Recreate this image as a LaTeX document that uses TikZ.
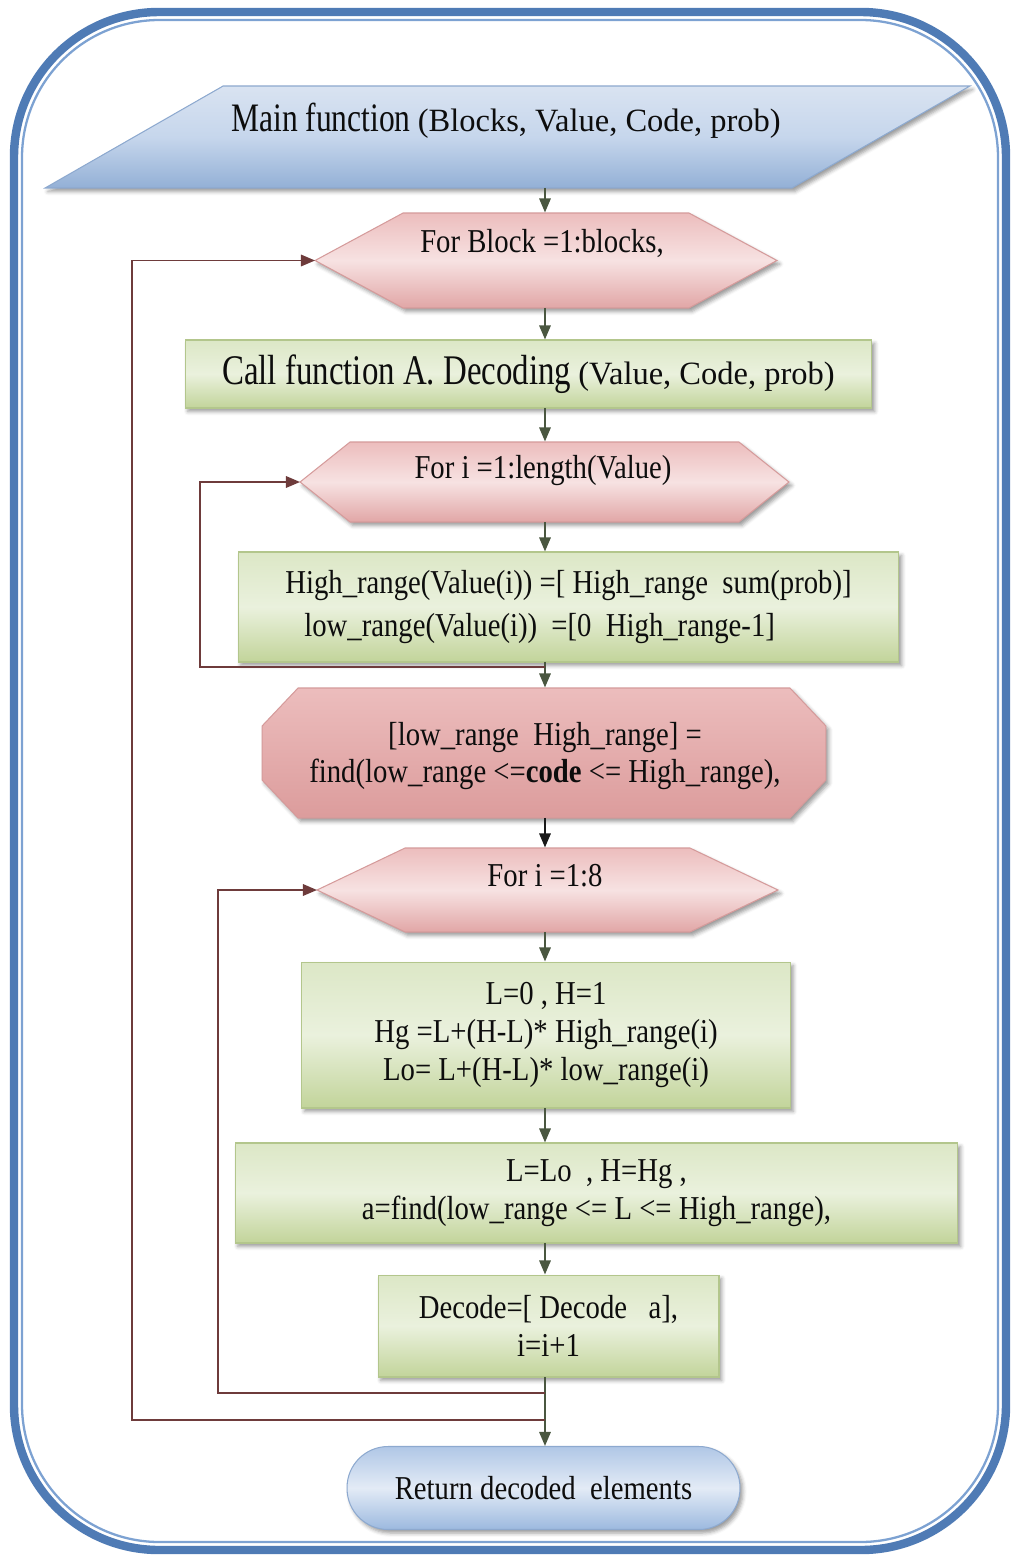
\documentclass[tikz,border=0pt]{standalone}
\usepackage{fontspec}
\setmainfont[FakeStretch=0.86]{Liberation Serif}
\newfontfamily\plainserif{Liberation Serif}
\newfontfamily\narrowserif[FakeStretch=0.78]{Liberation Serif}
\usetikzlibrary{calc,arrows.meta,shadows.blur}

\definecolor{frameblue}{HTML}{4F7BB5}
\definecolor{frameinner}{HTML}{7DA2D2}
\definecolor{gTop}{HTML}{DCE7C6}
\definecolor{gMid}{HTML}{EAF1DD}
\definecolor{gBot}{HTML}{C2D49A}
\definecolor{gLine}{HTML}{B3C68C}
\definecolor{pTop}{HTML}{ECBDBD}
\definecolor{pMid}{HTML}{F7E2E2}
\definecolor{pBot}{HTML}{E1A6A6}
\definecolor{pBotDeep}{HTML}{DC9C9C}
\definecolor{pLine}{HTML}{D59B9B}
\definecolor{bTop}{HTML}{D9E3F1}
\definecolor{bMid}{HTML}{C6D6EC}
\definecolor{bBot}{HTML}{93B0D6}
\definecolor{bLine}{HTML}{8DA9CF}
\definecolor{tTop}{HTML}{B0C7E6}
\definecolor{tMid}{HTML}{E3EBF6}
\definecolor{tBot}{HTML}{9CB9DF}
\definecolor{flowcol}{HTML}{4A5740}
\definecolor{loopcol}{HTML}{6E3B3B}

% hexagon drawn on the bounding box of a named node, #2 = tip length
\newcommand\hexpath[2]{(#1.west) -- ($(#1.north west)+(#2,0)$) -- ($(#1.north east)+(-#2,0)$)
  -- (#1.east) -- ($(#1.south east)+(-#2,0)$) -- ($(#1.south west)+(#2,0)$) -- cycle}
% octagon with cut corners
\newcommand\octpath[3]{($(#1.north west)+(#2,0)$) -- ($(#1.north east)+(-#2,0)$)
  -- ($(#1.north east)+(0,#3)$) -- ($(#1.south east)+(0,-#3)$) -- ($(#1.south east)+(-#2,0)$)
  -- ($(#1.south west)+(#2,0)$) -- ($(#1.south west)+(0,-#3)$) -- ($(#1.north west)+(0,#3)$) -- cycle}

\tikzset{
  softshadow/.style={blur shadow={shadow xshift=1.6pt, shadow yshift=-2pt,
      shadow blur radius=2.2pt, shadow opacity=40}},
  anchorbox/.style={rectangle, inner sep=0pt, outer sep=0pt},
  txt/.style={inner sep=0pt, align=center, text=black!95,
      font=\fontsize{19}{21.5}\selectfont},
  greenbox/.style={rectangle, inner sep=0pt, outer sep=0pt, draw=gLine, line width=0.6pt,
      top color=gTop, bottom color=gBot, middle color=gMid, softshadow,
      align=center, text=black!95, font=\fontsize{19}{21.5}\selectfont},
  pinkfill/.style={draw=pLine, line width=0.6pt, top color=pTop, bottom color=pBot,
      middle color=pMid, softshadow},
  bluefill/.style={draw=bLine, line width=0.6pt, top color=bTop, bottom color=bBot,
      middle color=bMid, softshadow},
  termbox/.style={rectangle, rounded corners=0.82cm, inner sep=0pt, outer sep=0pt,
      draw=bLine, line width=0.6pt, top color=tTop, bottom color=tBot, middle color=tMid,
      softshadow, text=black!95, font=\fontsize{19}{21.5}\selectfont},
  flow/.style={draw=flowcol, line width=1.1pt,
      -{Triangle[length=8pt,width=6.5pt]}, shorten >=0.3pt},
  flowblack/.style={flow, draw=black!90},
  loopline/.style={draw=loopcol, line width=1.1pt,
      -{Triangle[length=8pt,width=6.5pt]}},
}

\begin{document}
\begin{tikzpicture}[x=0.02cm, y=-0.02cm]
\useasboundingbox (0,0) rectangle (1019,1559);

% rounded outer frame with a thin inner rule
\draw[frameblue, line width=4.8pt, rounded corners=2.9cm] (14,12) rectangle (1006,1550);
\draw[frameinner, line width=1.3pt, rounded corners=2.75cm] (22,20) rectangle (998,1542);

\coordinate (spine) at (545,0);

% input parallelogram
\node[anchorbox, minimum width=18.5cm, minimum height=2.04cm] (main) at (507.5,137) {};
\path[bluefill] ($(main.north west)+(178,0)$) -- (main.north east)
  -- ($(main.south east)+(-178,0)$) -- (main.south west) -- cycle;
\node[txt] (maintxt) at (506,121)
  {{\narrowserif\fontsize{23}{26}\selectfont Main function} {\plainserif\fontsize{18.5}{22}\selectfont(Blocks, Value, Code, prob)}};

% outer loop header
\node[anchorbox, minimum width=9.24cm, minimum height=1.9cm] (h1) at (546,260.5) {};
\path[pinkfill] \hexpath{h1}{88};
\node[txt] (h1txt) at (542,243) {For Block =1:blocks,};

% call of the decoding routine
\node[greenbox, minimum width=13.74cm, minimum height=1.36cm] (call) at (528.5,374)
  {{\narrowserif\fontsize{24}{26}\selectfont Call function A. Decoding} {\plainserif\fontsize{18.5}{22}\selectfont(Value, Code, prob)}};

% range loop header
\node[anchorbox, minimum width=9.78cm, minimum height=1.6cm] (h2) at (544.5,482) {};
\path[pinkfill] \hexpath{h2}{50};
\node[txt] (h2txt) at (543,471) {For i =1:length(Value)};

% range assignment
\node[greenbox, minimum width=13.22cm, minimum height=2.2cm, align=left,
      font=\fontsize{19}{25}\selectfont] (ranges) at (568.5,607)
  {High\_range(Value(i)) =[ High\_range\ \ sum(prob)]\\
   \hspace*{0.38cm}low\_range(Value(i))\ \ =[0\ \ High\_range-1]};

% range lookup
\node[anchorbox, minimum width=11.28cm, minimum height=2.6cm] (find) at (544,753) {};
\path[pinkfill, bottom color=pBotDeep] \octpath{find}{36}{38};
\node[txt] (findtxt) at (545,756)
  {[low\_range\ \ High\_range] =\\find(low\_range <={\bfseries code} <= High\_range),};

% symbol loop header
\node[anchorbox, minimum width=9.22cm, minimum height=1.68cm] (h3) at (547.5,890) {};
\path[pinkfill] \hexpath{h3}{88};
\node[txt] (h3txt) at (545,876) {For i =1:8};

% interval update
\node[greenbox, minimum width=9.78cm, minimum height=2.92cm] (interval) at (546,1035)
  {L=0 , H=1\\Hg =L+(H-L)* High\_range(i)\\Lo= L+(H-L)* low\_range(i)};

\node[greenbox, minimum width=14.46cm, minimum height=2.0cm] (search) at (596.5,1193)
  {L=Lo\ \ , H=Hg ,\\a=find(low\_range <= L <= High\_range),};

\node[greenbox, minimum width=6.82cm, minimum height=2.04cm] (append) at (548.5,1326)
  {Decode=[ Decode\ \ \ a],\\i=i+1};

% terminal
\node[termbox, minimum width=7.86cm, minimum height=1.66cm] (ret) at (543.5,1488)
  {Return decoded\ \ elements};

% main flow
\draw[flow] (main.south -| spine) -- (h1.north -| spine);
\draw[flow] (h1.south -| spine) -- (call.north -| spine);
\draw[flow] (call.south -| spine) -- (h2.north -| spine);
\draw[flow] (h2.south -| spine) -- (ranges.north -| spine);
\draw[flow] (ranges.south -| spine) -- (find.north -| spine);
\draw[flowblack] (find.south -| spine) -- (h3.north -| spine);
\draw[flow] (h3.south -| spine) -- (interval.north -| spine);
\draw[flow] (interval.south -| spine) -- (search.north -| spine);
\draw[flow] (search.south -| spine) -- (append.north -| spine);
\draw[flow] (append.south -| spine) -- (ret.north -| spine);

% loop returns
\coordinate (j2) at (545,667);
\coordinate (c2) at (200,667);
\draw[loopline] (j2) -- (c2) |- (h2.west);

\coordinate (j3) at (545,1393);
\coordinate (c3) at (218,1393);
\draw[loopline] (j3) -- (c3) |- (h3.west);

\coordinate (j1) at (545,1420);
\coordinate (c1) at (132,1420);
\draw[loopline] (j1) -- (c1) |- (h1.west);
\end{tikzpicture}
\end{document}
